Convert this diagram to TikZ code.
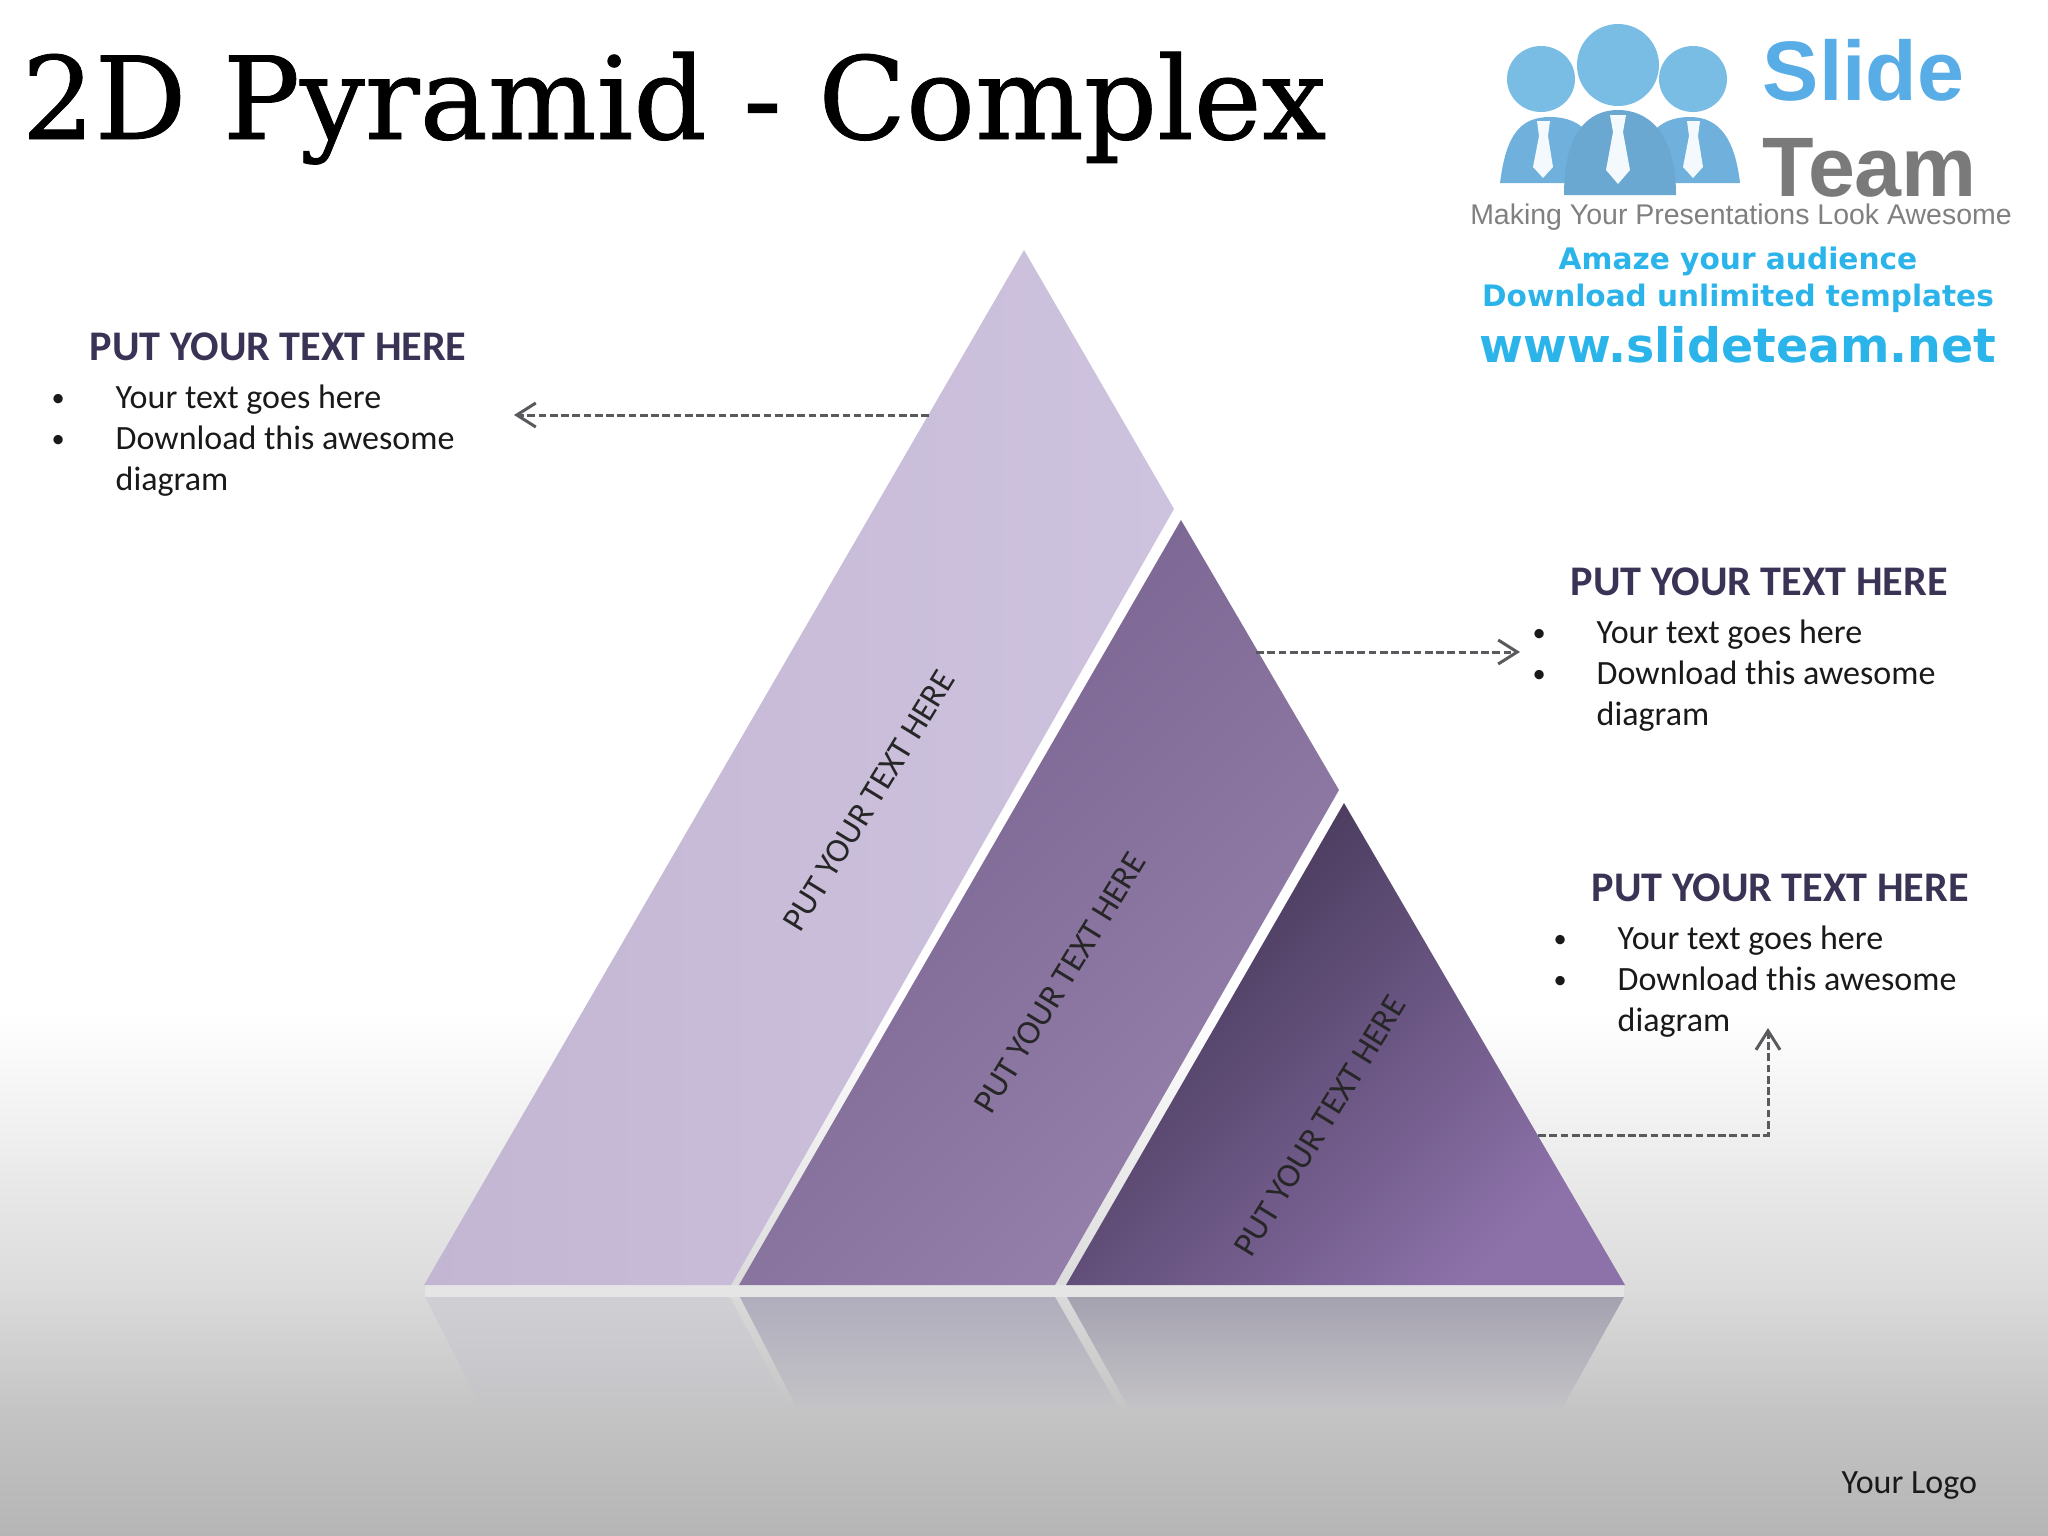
\documentclass[tikz,border=0pt]{standalone}
\usepackage{fontspec}
\setmainfont{Carlito}
\newfontfamily\titlefont[FakeBold=0.7]{DejaVu Serif}
\newfontfamily\logofont{Liberation Sans}
\newfontfamily\webfont{DejaVu Sans}
\usetikzlibrary{arrows.meta}
\definecolor{headInk}{HTML}{3B3356}
\definecolor{arrowInk}{HTML}{5A5A5E}
\definecolor{logoBlue}{HTML}{6FB0DC}
\definecolor{logoHead}{HTML}{7ABDE4}
\definecolor{logoSky}{HTML}{58ADE6}
\definecolor{webBlue}{HTML}{2AB4EA}
\definecolor{lightA}{HTML}{C3B6D3}
\definecolor{lightB}{HTML}{CEC3DE}
\definecolor{midA}{HTML}{76608E}
\definecolor{midB}{HTML}{9682AC}
\definecolor{darkA}{HTML}{3F3352}
\definecolor{darkM}{HTML}{584870}
\definecolor{darkB}{HTML}{8D72AA}
\definecolor{floorGrey}{HTML}{C4C3C6}
\definecolor{reflLight}{HTML}{D0CFD4}
\definecolor{reflMid}{HTML}{B0ADBD}
\definecolor{reflDark}{HTML}{A5A2B0}
\begin{document}
\begin{tikzpicture}[x=0.01cm,y=-0.01cm]
  \tikzstyle{headStyle}=[anchor=base west,inner sep=0pt,text=headInk,font=\fontsize{12}{14}\selectfont\bfseries]
  \tikzstyle{lineStyle}=[anchor=base west,inner sep=0pt,text=black!90,font=\fontsize{9.67}{11}\selectfont]
  \tikzstyle{bulletStyle}=[anchor=base west,inner sep=0pt,text=black!90,font=\fontsize{7.5}{9}\selectfont]
  \tikzstyle{pyrStyle}=[inner sep=0pt,rotate=58.5,text=black!85,font=\fontsize{9.7}{11}\selectfont]
  \tikzstyle{dashStyle}=[dash pattern=on 2.2pt off 1pt,line width=0.85pt,draw=arrowInk,-{Straight Barb[length=1.9mm,width=2.4mm]}]
  \tikzstyle{tieStyle}=[fill=white!92!logoBlue]
  \useasboundingbox (0,0) rectangle (2048,1536);

  % backdrop
  \fill[white] (0,0) rectangle (2048,1010);
  \shade[top color=white,bottom color=black!14!white] (0,1010) rectangle (2048,1290);
  \shade[top color=black!14!white,bottom color=black!23!white] (0,1289) rectangle (2048,1410);
  \shade[top color=black!23!white,bottom color=black!29!white] (0,1409) rectangle (2048,1536);
  \fill[black!10!white] (425,1285) rectangle (1624,1297);

  % pyramid
  \coordinate (lightTop) at (1024,250);
  \coordinate (lightRight) at (1174,509);
  \coordinate (lightFootA) at (731,1285);
  \coordinate (lightFootB) at (424,1285);
  \coordinate (midTop) at (1181,520);
  \coordinate (midRight) at (1339,790);
  \coordinate (midFootA) at (1055,1285);
  \coordinate (midFootB) at (739,1285);
  \coordinate (darkTop) at (1344,803);
  \coordinate (darkFootA) at (1625,1285);
  \coordinate (darkFootB) at (1066,1285);
  \shade[left color=lightA,right color=lightB] (lightTop) -- (lightRight) -- (lightFootA) -- (lightFootB) -- cycle;
  \shade[top color=midA,bottom color=midB,shading angle=45] (midTop) -- (midRight) -- (midFootA) -- (midFootB) -- cycle;
  \shade[top color=darkA,middle color=darkM,bottom color=darkB,shading angle=45] (darkTop) -- (darkFootA) -- (darkFootB) -- cycle;

  % reflection
  \shade[top color=reflLight,bottom color=floorGrey] (425,1297) -- (730,1297) -- (790,1410) -- (483,1410) -- cycle;
  \shade[top color=reflMid,bottom color=floorGrey] (740,1297) -- (1055,1297) -- (1120,1410) -- (798,1410) -- cycle;
  \shade[top color=reflDark,bottom color=floorGrey] (1067,1297) -- (1624,1297) -- (1561,1410) -- (1130,1410) -- cycle;

  \node[pyrStyle](pyrLight) at (869,801) {PUT YOUR TEXT HERE};
  \node[pyrStyle](pyrMid) at (1060,983) {PUT YOUR TEXT HERE};
  \node[pyrStyle](pyrDark) at (1320,1126) {PUT YOUR TEXT HERE};

  \node[anchor=base west,inner sep=0pt,font=\fontsize{32.6}{36}\selectfont\titlefont](title) at (21,139) {2D Pyramid - Complex};

  % left text
  \node[headStyle](head1) at (89,360) {PUT YOUR TEXT HERE};
  \node[bulletStyle](bullet1a) at (51,406) {•};
  \node[lineStyle](line1a) at (115,408) {Your text goes here};
  \node[bulletStyle](bullet1b) at (51,447) {•};
  \node[lineStyle](line1b) at (115,449) {Download this awesome};
  \node[lineStyle](line1c) at (115,490) {diagram};

  % right text, upper
  \node[headStyle](head2) at (1570,595) {PUT YOUR TEXT HERE};
  \node[bulletStyle](bullet2a) at (1532,641) {•};
  \node[lineStyle](line2a) at (1596,643) {Your text goes here};
  \node[bulletStyle](bullet2b) at (1532,682) {•};
  \node[lineStyle](line2b) at (1596,684) {Download this awesome};
  \node[lineStyle](line2c) at (1596,725) {diagram};

  % right text, lower
  \node[headStyle](head3) at (1591,901) {PUT YOUR TEXT HERE};
  \node[bulletStyle](bullet3a) at (1553,947) {•};
  \node[lineStyle](line3a) at (1617,949) {Your text goes here};
  \node[bulletStyle](bullet3b) at (1553,988) {•};
  \node[lineStyle](line3b) at (1617,990) {Download this awesome};
  \node[lineStyle](line3c) at (1617,1031) {diagram};

  % dashed arrows
  \coordinate (lightEdge) at (929,415);
  \coordinate (leftEnd) at (514,415);
  \coordinate (midEdge) at (1256,652);
  \coordinate (midEnd) at (1520,652);
  \coordinate (darkEdge) at (1538,1135);
  \coordinate (darkEnd) at (1768,1028);
  \draw[dashStyle] (lightEdge) -- (leftEnd);
  \draw[dashStyle] (midEdge) -- (midEnd);
  \draw[dashStyle] (darkEdge) -| (darkEnd);

  % logo people
  \fill[logoHead] (1541,79) ellipse [x radius=34,y radius=33];
  \fill[logoHead] (1693,79) ellipse [x radius=34,y radius=33];
  \fill[logoBlue] (1500,183) .. controls (1506,135) and (1520,117) .. (1550,117) .. controls (1585,117) and (1600,140) .. (1605,183) -- cycle;
  \fill[logoBlue] (1635,183) .. controls (1640,140) and (1655,117) .. (1690,117) .. controls (1720,117) and (1735,140) .. (1740,183) -- cycle;
  \fill[logoHead] (1618,65) ellipse [x radius=41,y radius=41];
  \fill[logoBlue!95!black] (1564,195) .. controls (1564,130) and (1590,110) .. (1618,110) .. controls (1646,110) and (1676,130) .. (1676,195) -- cycle;
  \fill[tieStyle] (1610,115) -- (1626,115) -- (1623,132) -- (1630,170) -- (1618,184) -- (1606,170) -- (1613,132) -- cycle;
  \fill[tieStyle] (1537,121) -- (1550,121) -- (1548,136) -- (1553,167) -- (1543,178) -- (1533,167) -- (1539,136) -- cycle;
  \fill[tieStyle] (1687,121) -- (1700,121) -- (1698,136) -- (1703,167) -- (1693,178) -- (1683,167) -- (1689,136) -- cycle;

  % logo words
  \node[anchor=base west,inner sep=0pt,text=logoSky,font=\fontsize{24}{26}\selectfont\logofont\bfseries](logoSlide) at (1762,100) {Slide};
  \node[anchor=base west,inner sep=0pt,text=black!52,font=\fontsize{24}{26}\selectfont\logofont\bfseries](logoTeam) at (1762,196) {Team};
  \node[inner sep=0pt,text=black!50,font=\fontsize{8.1}{10}\selectfont\logofont](logoTag) at (1741,217) {Making Your Presentations Look Awesome};
  \node[inner sep=0pt,text=webBlue,font=\fontsize{8.43}{10}\selectfont\webfont\bfseries](logoAmaze) at (1738,261) {Amaze your audience};
  \node[inner sep=0pt,text=webBlue,font=\fontsize{8.4}{10}\selectfont\webfont\bfseries](logoDown) at (1738,298) {Download unlimited templates};
  \node[inner sep=0pt,text=webBlue,font=\fontsize{13.5}{15}\selectfont\webfont\bfseries](logoWeb) at (1738,345) {www.slideteam.net};

  \node[anchor=base west,inner sep=0pt,text=black!90,font=\fontsize{9.67}{11}\selectfont](yourLogo) at (1841,1493) {Your Logo};
\end{tikzpicture}
\end{document}
